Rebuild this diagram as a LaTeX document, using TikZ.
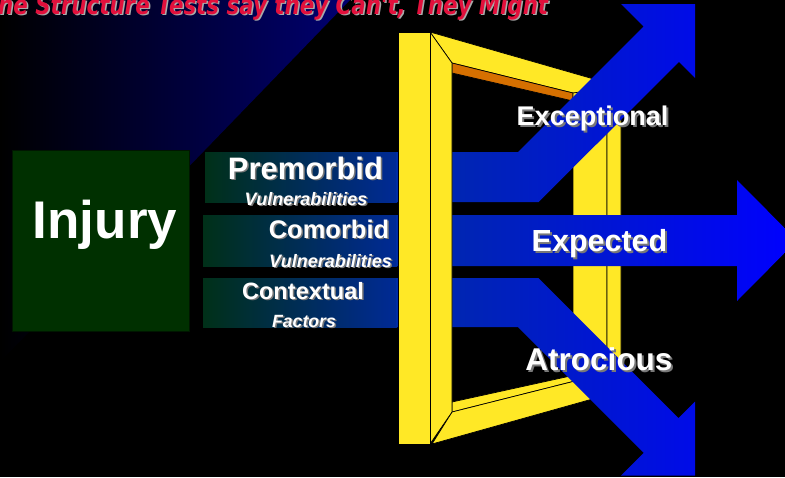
\documentclass[tikz,border=0pt]{standalone}
\usepackage{graphicx}
\usepackage{fontspec}
\setmainfont{Liberation Sans}
\newfontfamily\titlefont{DejaVu Sans}
\definecolor{fy}{RGB}{255,232,38}
\definecolor{forange}{RGB}{214,112,0}
\definecolor{navyc}{RGB}{0,0,112}
\definecolor{injgreen}{RGB}{0,48,0}
\definecolor{boxleft}{RGB}{0,48,24}
\definecolor{boxright}{RGB}{0,42,150}
\definecolor{arrleft}{RGB}{0,44,165}
\definecolor{arrright}{RGB}{0,0,255}
\definecolor{titlered}{RGB}{226,16,60}
\definecolor{titleshadow}{RGB}{170,170,170}
\definecolor{txtshadow}{RGB}{120,120,120}
\newcommand{\titletext}{\resizebox{550pt}{20pt}{\fontsize{24}{24}\selectfont\titlefont\bfseries\itshape he Structure Tests say they Can't, They Might}}
\tikzset{
  framepart/.style={fill=fy, draw=black, line width=0.7pt, line join=miter},
  factorbox/.style={left color=boxleft, right color=boxright},
  lbl/.style={anchor=base, inner sep=0pt, text=white, font=\bfseries},
  lblsh/.style={anchor=base, inner sep=0pt, text=txtshadow, font=\bfseries},
}
\begin{document}
\begin{tikzpicture}[x=1pt,y=-1pt]
\useasboundingbox (0,0) rectangle (785,477);
\clip (0,0) rectangle (785,477);
\fill[black] (0,0) rectangle (785,477);
% dark blue background triangle
\shade[left color=black, right color=navyc] (0,0) -- (350,0) -- (0,362) -- cycle;

% title
\node[anchor=base west, inner sep=0pt, text=titleshadow] (titlesh) at (-0.5,15.5) {\titletext};
\node[anchor=base west, inner sep=0pt, text=titlered] (title) at (-2,14) {\titletext};

% injury box
\fill[injgreen, draw={rgb,255:red,0;green,22;blue,0}, line width=1pt] (12,150) rectangle (189,331);
\node[anchor=base, inner sep=0pt, text=white, font=\bfseries\fontsize{53}{53}\selectfont] (injury) at (105,238) {Injury};

% factor boxes
\shade[factorbox] (205,152) rectangle (397,202);
\shade[factorbox] (203,215) rectangle (397,266);
\shade[factorbox] (203,278) rectangle (397,327);

% back parts of the frame
\path[framepart] (430,32) -- (625,88) -- (625,100) -- (573,93) -- (452,63) -- cycle; % top bar
\path[fill=forange, draw=black, line width=0.7pt] (452,63) -- (573,93) -- (573,101) -- (452,73) -- cycle; % underside
\path[framepart] (573,93) -- (607,88) -- (607,386) -- (573,378) -- cycle; % right pillar inner face
\path[framepart] (607,88) -- (621,88) -- (621,391) -- (607,386) -- cycle; % right pillar front
\path[framepart] (452,402) -- (575,375) -- (575,381) -- (452,412) -- cycle; % bottom bar top face
\path[framepart] (452,412) -- (575,381) -- (607,386) -- (621,391) -- (432,444) -- cycle; % bottom bar front

% blue block arrows
\shade[left color=arrleft, right color=arrright]
  % Exceptional
  (396,152) -- (518,152) -- (643.5,26.5) -- (621,4) -- (695,4) -- (695,78) -- (678.9,61.9) -- (538.7,202) -- (396,202) -- cycle
  % Expected
  (396,215) -- (737,215) -- (737,180) -- (797,240.5) -- (737,301) -- (737,266) -- (396,266) -- cycle
  % Atrocious
  (396,278) -- (538.3,278) -- (678.4,418.1) -- (695,401.5) -- (695,475.5) -- (621,475.5) -- (643.75,452.75) -- (518,327) -- (396,327) -- cycle;

% front left pillar of the frame
\path[framepart] (430,32) -- (452,63) -- (452,412) -- (430,444) -- cycle;
\path[framepart] (398,32) rectangle (430,444);

% factor labels
\node[lblsh, font=\bfseries\fontsize{31}{31}\selectfont] (premsh) at (307,180.5) {Premorbid};
\node[lbl, font=\bfseries\fontsize{31}{31}\selectfont] (prem) at (305.5,179) {Premorbid};
\node[lblsh, font=\bfseries\itshape\fontsize{18}{18}\selectfont] (vul1sh) at (307.5,206.5) {Vulnerabilities};
\node[lbl, font=\bfseries\itshape\fontsize{18}{18}\selectfont] (vul1) at (306,205) {Vulnerabilities};
\node[lblsh, font=\bfseries\fontsize{25.5}{25.5}\selectfont] (comsh) at (330.5,239.5) {Comorbid};
\node[lbl, font=\bfseries\fontsize{25.5}{25.5}\selectfont] (com) at (329,238) {Comorbid};
\node[lblsh, font=\bfseries\itshape\fontsize{18}{18}\selectfont] (vul2sh) at (332,268.5) {Vulnerabilities};
\node[lbl, font=\bfseries\itshape\fontsize{18}{18}\selectfont] (vul2) at (330.5,267) {Vulnerabilities};
\node[lblsh, font=\bfseries\fontsize{23.6}{23.6}\selectfont] (consh) at (304.5,300.5) {Contextual};
\node[lbl, font=\bfseries\fontsize{23.6}{23.6}\selectfont] (con) at (303,299) {Contextual};
\node[lblsh, font=\bfseries\itshape\fontsize{17.7}{17.7}\selectfont] (facsh) at (305.5,328.5) {Factors};
\node[lbl, font=\bfseries\itshape\fontsize{17.7}{17.7}\selectfont] (fac) at (304,327) {Factors};

% outcome labels
\node[lblsh, font=\bfseries\fontsize{27}{27}\selectfont] (excsh) at (594.5,127) {Exceptional};
\node[lbl, font=\bfseries\fontsize{27}{27}\selectfont] (exc) at (592.5,125) {Exceptional};
\node[lblsh, font=\bfseries\fontsize{30.5}{30.5}\selectfont] (expsh) at (601.5,253) {Expected};
\node[lbl, font=\bfseries\fontsize{30.5}{30.5}\selectfont] (exp) at (599.5,251) {Expected};
\node[lblsh, font=\bfseries\fontsize{31.5}{31.5}\selectfont] (atrsh) at (601,372) {Atrocious};
\node[lbl, font=\bfseries\fontsize{31.5}{31.5}\selectfont] (atr) at (599,370) {Atrocious};
\end{tikzpicture}
\end{document}
